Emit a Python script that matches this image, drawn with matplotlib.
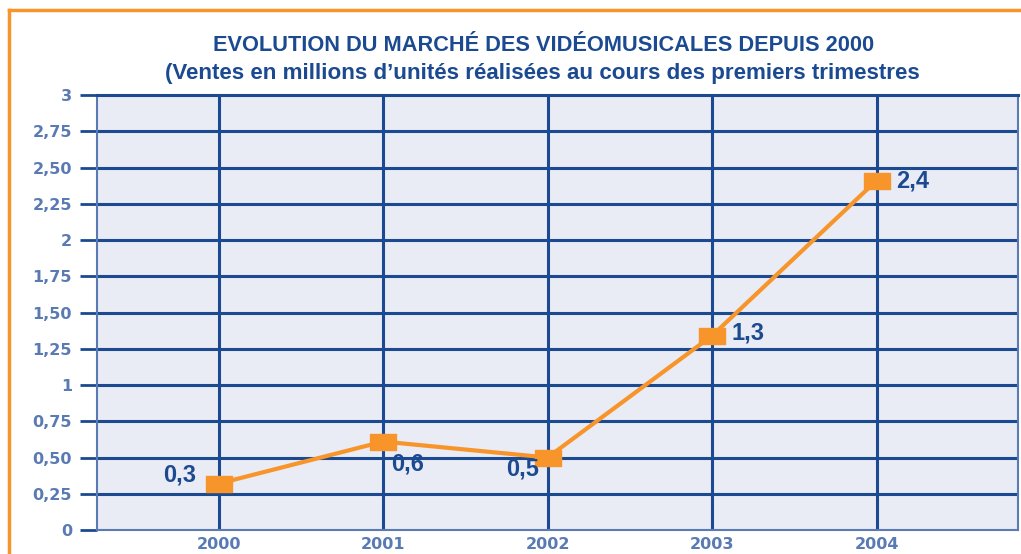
import matplotlib.pyplot as plt
from matplotlib.lines import Line2D

years = [2000, 2001, 2002, 2003, 2004]
sales = [0.32, 0.61, 0.5, 1.34, 2.41]
value_labels = ["0,3", "0,6", "0,5", "1,3", "2,4"]
y_ticks = [0, 0.25, 0.5, 0.75, 1, 1.25, 1.5, 1.75, 2, 2.25, 2.5, 2.75, 3]
y_tick_labels = ["0", "0,25", "0,50", "0,75", "1", "1,25", "1,50", "1,75",
                 "2", "2,25", "2,50", "2,75", "3"]

title_1 = "EVOLUTION DU MARCHÉ DES VIDÉOMUSICALES DEPUIS 2000"
title_2 = "(Ventes en millions d\u2019unités réalisées au cours des premiers trimestres"

navy = "#1b4a91"
light_blue = "#5a7ab3"
orange = "#f7952a"
cond = ["Liberation Sans", "DejaVu Sans"]

fig = plt.figure(figsize=(10.21, 5.54), dpi=100)
ax = fig.add_axes([0.095, 0.0433, 0.902, 0.7852])
ax.set_facecolor("#e9ebf5")

ax.set_xlim(1999.26, 2004.86)
ax.set_ylim(0, 3)

ax.set_yticks(y_ticks)
ax.set_yticklabels(y_tick_labels, fontweight="bold")
ax.set_xticks(years)
ax.set_xticklabels([str(y) for y in years], fontweight="bold")
ax.tick_params(axis="y", length=12, width=2, color=navy, labelcolor=light_blue,
               labelsize=11.5, pad=6)
ax.tick_params(axis="x", length=0, labelcolor=light_blue, labelsize=11.5, pad=5)

for y in y_ticks[1:-1]:
    ax.axhline(y, color=navy, lw=2.2, zorder=1)
for x in years:
    ax.axvline(x, color=navy, lw=2.2, zorder=1)

for side in ["left", "right", "bottom"]:
    ax.spines[side].set_color(light_blue)
    ax.spines[side].set_linewidth(1.5)
ax.spines["top"].set_color(navy)
ax.spines["top"].set_linewidth(2.2)

box = [(-1, -0.6), (1, -0.6), (1, 0.6), (-1, 0.6), (-1, -0.6)]
ax.plot(years, sales, color=orange, lw=3, marker=box, ms=19,
        mec=orange, mfc=orange, zorder=3, clip_on=False)

# label offsets in points (dx, dy, ha, va)
offsets = [(-16, 6, "right", "center"), (6, -16, "left", "center"),
           (-6, -8, "right", "center"), (14, 2, "left", "center"),
           (14, 0, "left", "center")]
for x, y, lab, (dx, dy, ha, va) in zip(years, sales, value_labels, offsets):
    ax.annotate(lab, (x, y), xytext=(dx, dy), textcoords="offset points",
                ha=ha, va=va, fontsize=17, fontweight="bold", color=navy,
                family=cond, zorder=4)

fig.text(0.532, 0.918, title_1, ha="center", va="center", fontsize=15.7,
         fontweight="bold", color=navy, family=cond)
fig.text(0.531, 0.867, title_2, ha="center", va="center", fontsize=16.1,
         fontweight="bold", color=navy, family=cond)

# orange frame
fig.add_artist(Line2D([9 / 1021, 9 / 1021], [0, 1 - 10 / 554],
                      transform=fig.transFigure, color=orange, lw=2.5))
fig.add_artist(Line2D([9 / 1021, 1], [1 - 10 / 554, 1 - 10 / 554],
                      transform=fig.transFigure, color=orange, lw=2.5))

fig.savefig("out.png", dpi=100)
